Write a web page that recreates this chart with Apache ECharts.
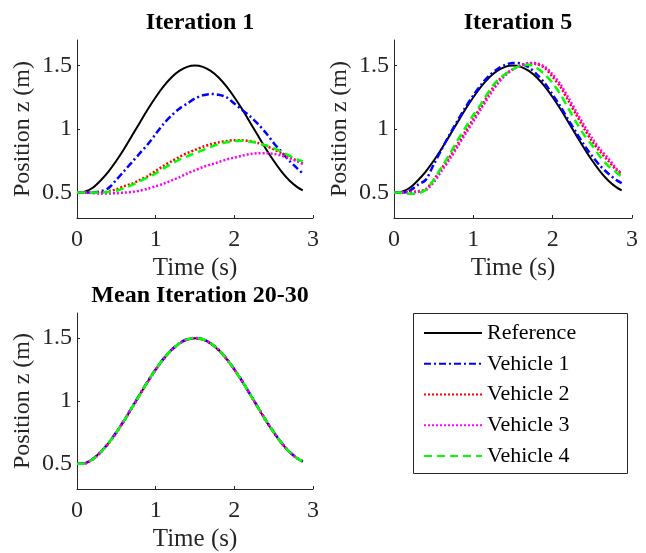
<!DOCTYPE html>
<html>
<head>
<meta charset="utf-8">
<script src="https://cdn.jsdelivr.net/npm/echarts@6/dist/echarts.min.js"></script>
<style>
  html, body { margin: 0; padding: 0; background: #fff; }
  #chart { width: 646px; height: 553px; }
</style>
</head>
<body>
<div id="chart"></div>
<script>
// Sample times (s)
const time = [0, 0.1, 0.2, 0.3, 0.4, 0.5, 0.6, 0.7, 0.8, 0.9, 1.0, 1.1, 1.2, 1.3, 1.4, 1.5,
              1.6, 1.7, 1.8, 1.9, 2.0, 2.1, 2.2, 2.3, 2.4, 2.5, 2.6, 2.7, 2.8, 2.87];

// Reference trajectory z (m)
const refZ = [0.5, 0.506, 0.538, 0.595, 0.665, 0.75, 0.845, 0.948, 1.052, 1.155, 1.25, 1.335, 1.405, 1.457, 1.489, 1.5,
              1.489, 1.457, 1.405, 1.335, 1.25, 1.155, 1.052, 0.948, 0.845, 0.75, 0.665, 0.595, 0.543, 0.518];

// Iteration 1
const it1V1 = [0.5, 0.5, 0.5, 0.51, 0.535, 0.6, 0.67, 0.74, 0.81, 0.88, 0.96, 1.04, 1.105, 1.16, 1.2, 1.24,
               1.265, 1.275, 1.27, 1.25, 1.2, 1.15, 1.1, 1.04, 0.97, 0.89, 0.82, 0.75, 0.69, 0.65];
const it1V2 = [0.5, 0.5, 0.5, 0.5, 0.51, 0.525, 0.55, 0.57, 0.6, 0.63, 0.67, 0.71, 0.745, 0.78, 0.81, 0.835,
               0.86, 0.88, 0.895, 0.905, 0.912, 0.912, 0.905, 0.89, 0.87, 0.84, 0.81, 0.78, 0.75, 0.73];
const it1V3 = [0.5, 0.5, 0.495, 0.493, 0.493, 0.495, 0.5, 0.505, 0.515, 0.53, 0.55, 0.57, 0.595, 0.62, 0.65, 0.675,
               0.7, 0.72, 0.74, 0.76, 0.775, 0.79, 0.803, 0.81, 0.81, 0.805, 0.79, 0.77, 0.745, 0.725];
const it1V4 = [0.5, 0.5, 0.5, 0.5, 0.505, 0.515, 0.535, 0.56, 0.59, 0.62, 0.65, 0.69, 0.725, 0.76, 0.785, 0.81,
               0.835, 0.86, 0.88, 0.895, 0.905, 0.907, 0.9, 0.89, 0.87, 0.85, 0.82, 0.79, 0.76, 0.745];

// Iteration 5
const it5V1 = [0.5, 0.5, 0.515, 0.56, 0.6, 0.72, 0.84, 0.955, 1.065, 1.17, 1.265, 1.35, 1.42, 1.47, 1.505, 1.52,
               1.515, 1.485, 1.43, 1.36, 1.27, 1.175, 1.07, 0.97, 0.87, 0.785, 0.71, 0.65, 0.6, 0.575];
const it5V2 = [0.5, 0.5, 0.505, 0.51, 0.525, 0.6, 0.69, 0.78, 0.88, 0.98, 1.08, 1.18, 1.28, 1.37, 1.43, 1.47,
               1.5, 1.515, 1.51, 1.48, 1.41, 1.33, 1.22, 1.11, 1.0, 0.9, 0.82, 0.75, 0.68, 0.64];
const it5V3 = [0.5, 0.5, 0.5, 0.505, 0.52, 0.58, 0.67, 0.76, 0.86, 0.96, 1.06, 1.16, 1.26, 1.35, 1.42, 1.47,
               1.5, 1.52, 1.515, 1.49, 1.43, 1.35, 1.245, 1.135, 1.025, 0.925, 0.84, 0.77, 0.69, 0.65];
const it5V4 = [0.5, 0.5, 0.49, 0.495, 0.52, 0.6, 0.7, 0.8, 0.91, 1.01, 1.11, 1.2, 1.3, 1.38, 1.43, 1.47,
               1.5, 1.505, 1.48, 1.43, 1.36, 1.27, 1.16, 1.05, 0.95, 0.87, 0.78, 0.71, 0.66, 0.625];

// Mean over iterations 20-30
const meanV1 = [0.5, 0.506, 0.538, 0.593, 0.665, 0.752, 0.848, 0.951, 1.055, 1.157, 1.252, 1.337, 1.407, 1.459, 1.491, 1.502,
                1.492, 1.46, 1.408, 1.338, 1.253, 1.158, 1.055, 0.951, 0.848, 0.753, 0.667, 0.597, 0.545, 0.52];
const meanV2 = [0.5, 0.504, 0.536, 0.591, 0.662, 0.748, 0.844, 0.947, 1.051, 1.154, 1.249, 1.334, 1.404, 1.456, 1.488, 1.499,
                1.489, 1.457, 1.405, 1.335, 1.251, 1.156, 1.053, 0.949, 0.846, 0.751, 0.666, 0.596, 0.544, 0.519];
const meanV3 = [0.5, 0.503, 0.535, 0.59, 0.661, 0.747, 0.843, 0.946, 1.05, 1.153, 1.249, 1.334, 1.404, 1.457, 1.489, 1.5,
                1.49, 1.458, 1.406, 1.337, 1.252, 1.157, 1.054, 0.95, 0.847, 0.752, 0.667, 0.597, 0.545, 0.52];
const meanV4 = [0.5, 0.505, 0.537, 0.592, 0.664, 0.75, 0.846, 0.949, 1.053, 1.156, 1.251, 1.336, 1.406, 1.458, 1.49, 1.501,
                1.491, 1.459, 1.407, 1.337, 1.252, 1.157, 1.054, 0.95, 0.847, 0.752, 0.666, 0.596, 0.544, 0.519];

const xTicks = [0, 1, 2, 3];
const yTicks = [0.5, 1, 1.5];
const seriesNames = ['Reference', 'Vehicle 1', 'Vehicle 2', 'Vehicle 3', 'Vehicle 4'];
const panelTitles = ['Iteration 1', 'Iteration 5', 'Mean Iteration 20-30'];
const panelData = [
  [refZ, it1V1, it1V2, it1V3, it1V4],
  [refZ, it5V1, it5V2, it5V3, it5V4],
  [refZ, meanV1, meanV2, meanV3, meanV4]
];

const FONT = '"Liberation Serif", "Times New Roman", serif';
const AXIS_COLOR = '#262626';

const lineStyles = [
  { color: '#000000', width: 2, type: 'solid' },
  { color: '#0000ff', width: 2.5, type: [7, 3, 2, 3] },
  { color: '#ff0000', width: 2.5, type: [2, 2] },
  { color: '#ff00ff', width: 2.5, type: [2, 2] },
  { color: '#00ff00', width: 2.5, type: [8, 5] }
];

const grids = [
  { left: 77, top: 40, width: 236, height: 178 },
  { left: 394, top: 40, width: 238, height: 178 },
  { left: 77, top: 313, width: 236, height: 179 }
];

const xAxes = grids.map((g, i) => ({
  gridIndex: i,
  type: 'value',
  min: 0, max: 3, interval: 1,
  name: 'Time (s)',
  nameLocation: 'middle',
  nameGap: 38,
  nameTextStyle: { fontFamily: FONT, fontSize: 25, color: AXIS_COLOR },
  axisLine: { show: true, onZero: false, lineStyle: { color: AXIS_COLOR, width: 1 } },
  axisTick: { show: true, inside: true, length: 3, lineStyle: { color: AXIS_COLOR } },
  axisLabel: { fontFamily: FONT, fontSize: 24, color: AXIS_COLOR, margin: 10,
               customValues: xTicks },
  splitLine: { show: false }
}));

const yAxes = grids.map((g, i) => ({
  gridIndex: i,
  type: 'value',
  min: 0.3, max: 1.7,
  name: 'Position z (m)',
  nameLocation: 'middle',
  nameGap: 42,
  nameTextStyle: { fontFamily: FONT, fontSize: 24, color: AXIS_COLOR },
  axisLine: { show: true, onZero: false, lineStyle: { color: AXIS_COLOR, width: 1 } },
  axisTick: { show: true, inside: true, length: 3, lineStyle: { color: AXIS_COLOR },
              customValues: yTicks },
  axisLabel: { fontFamily: FONT, fontSize: 24, color: AXIS_COLOR, margin: 5,
               customValues: yTicks, formatter: v => String(v) },
  splitLine: { show: false }
}));

const series = [];
panelData.forEach((arrs, p) => {
  arrs.forEach((arr, k) => {
    series.push({
      name: seriesNames[k],
      type: 'line',
      xAxisIndex: p,
      yAxisIndex: p,
      symbol: 'none',
      smooth: 0.3,
      animation: false,
      lineStyle: lineStyles[k],
      itemStyle: { color: lineStyles[k].color },
      z: 2 + k,
      data: time.map((t, i) => [t, arr[i]])
    });
  });
});

const titles = panelTitles.map((txt, i) => ({
  text: txt,
  left: grids[i].left + grids[i].width / 2,
  top: i === 2 ? 279 : 6,
  textAlign: 'center',
  textStyle: { fontFamily: FONT, fontSize: 24, fontWeight: 'bold', color: '#000' }
}));

const chart = echarts.init(document.getElementById('chart'), null, { renderer: 'canvas' });
chart.setOption({
  backgroundColor: '#ffffff',
  animation: false,
  title: titles,
  grid: grids,
  xAxis: xAxes,
  yAxis: yAxes,
  legend: {
    data: seriesNames,
    orient: 'vertical',
    left: 423,
    top: 322,
    padding: 0,
    itemWidth: 58,
    itemHeight: 22,
    itemGap: 8.75,
    itemTextGap: 6,
    selectedMode: false,
    itemStyle: { opacity: 0 },
    textStyle: { fontFamily: FONT, fontSize: 22, color: '#000', lineHeight: 22 }
  },
  graphic: [{
    type: 'rect',
    shape: { x: 413.5, y: 313.5, width: 214, height: 160 },
    style: { fill: '#ffffff', stroke: AXIS_COLOR, lineWidth: 1 },
    z: -1
  }],
  series: series
});
</script>
</body>
</html>
